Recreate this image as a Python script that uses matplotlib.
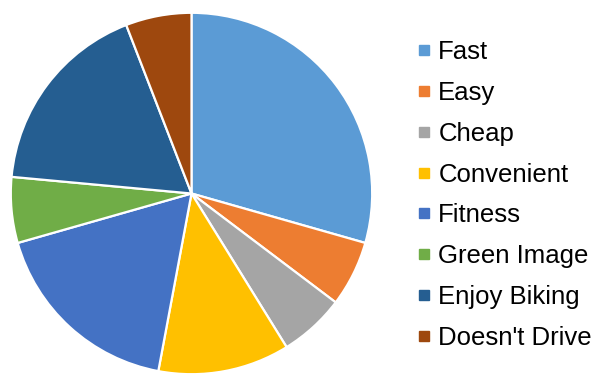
import matplotlib.pyplot as plt
from matplotlib.lines import Line2D

plt.rcParams['font.family'] = ['Liberation Sans', 'DejaVu Sans']

# Reasons for biking (counts)
labels = ['Fast', 'Easy', 'Cheap', 'Convenient', 'Fitness',
          'Green Image', 'Enjoy Biking', "Doesn't Drive"]
counts = [5, 1, 1, 2, 3, 1, 3, 1]
colors = ['#5B9BD5', '#ED7D31', '#A5A5A5', '#FFC000', '#4472C4',
          '#70AD47', '#255E91', '#9E480E']

fig = plt.figure(figsize=(5.95, 3.74), dpi=100)
ax = fig.add_axes([9 / 595, -2 / 374, 365 / 595, 365 / 374])

ax.pie(counts, colors=colors, startangle=90, counterclock=False, radius=1,
       wedgeprops=dict(edgecolor='white', linewidth=1.6))
ax.set_xlim(-1.01, 1.01)
ax.set_ylim(-1.01, 1.01)
ax.set_aspect('equal')
ax.axis('off')

handles = [Line2D([], [], marker='s', linestyle='none', markersize=6.5,
                  markerfacecolor=c, markeredgecolor=c) for c in colors]
fig.legend(handles, labels, loc='center left', bbox_to_anchor=(416 / 595, 1 - 195 / 374),
           frameon=False, fontsize=18.5, labelspacing=0.66, handletextpad=0.27,
           handlelength=0.6, borderaxespad=0, borderpad=0)

fig.savefig('out.png', dpi=100)
